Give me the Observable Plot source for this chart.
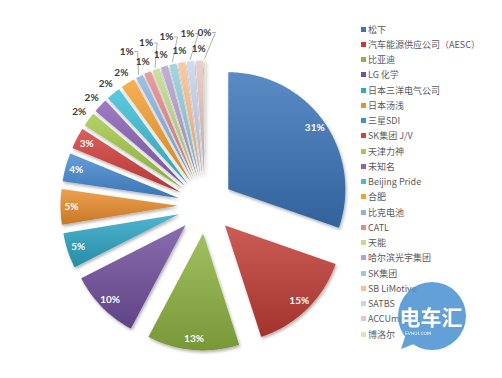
<!DOCTYPE html>
<html><head><meta charset="utf-8">
<script src="https://cdn.jsdelivr.net/npm/d3@7"></script>
<script src="https://cdn.jsdelivr.net/npm/@observablehq/plot@0.6"></script>
<style>
html,body{margin:0;padding:0;background:#fff}
body{width:502px;height:378px;overflow:hidden;position:relative;font-family:"Noto Sans CJK SC","Noto Sans",sans-serif}
#chart{position:absolute;left:0;top:0}
#legend{position:absolute;left:361px;top:21.5px;font-size:9px;color:#5a5a5a}
.item{display:flex;align-items:center;height:15.25px;white-space:nowrap}
.sw{width:5px;height:5px;margin-right:2px;flex:none}
#mark{position:absolute;left:0;top:0;pointer-events:none}
</style></head><body>
<div id="chart"></div>
<div id="legend"></div>
<svg id="mark" width="502" height="378">
  <g opacity="0.88">
    <path d="M406,334 L401,349 L419,342 Z" fill="#4d94d2"/>
    <circle cx="432" cy="316" r="34" fill="#4d94d2"/>
    <text x="431" y="325" text-anchor="middle" font-size="21" font-weight="bold" fill="#fff" font-family="Noto Sans CJK SC">电车汇</text>
    <text x="418" y="335" text-anchor="middle" font-size="4.5" fill="#fff" font-family="DejaVu Sans">EVHUI.COM</text>
  </g>
</svg>
<script>
// ---- data ----
const companies = ["松下","汽车能源供应公司（AESC）","比亚迪","LG 化学","日本三洋电气公司","日本汤浅","三星SDI","SK集团 J/V","天津力神","未知名","Beijing Pride","合肥","比克电池","CATL","天能","哈尔滨光宇集团","SK集团","SB LiMotive","SATBS","ACCUmotive","博洛尔"];
const shares = [31,15,13,10,5,5,4,3,2,2,2,2,1,1,1,1,1,1,1,1,0.2];
const colors = ["#3a74b9","#c23c36","#8fb443","#72519e","#2fa6c4","#ec8f2e","#478bd4","#d4403d","#a5c94a","#8b62b6","#3dbfd9","#f5a030","#8db3e2","#e48b89","#c2db8e","#b3a1cf","#92cddc","#fac08f","#c6d5ea","#e8c4c7","#d7e4bd"];

// ---- layout constants ----
const R = 117, EXPLODE = 28;
const rows = companies.map((name, i) => ({name, share: shares[i], label: Math.round(shares[i]) + "%"}));
const arcs = d3.pie().sort(null).value(d => d.share)(rows);

const pts = [];
const inside = [], outside = [], leaders = [];
const placed = [];
const overlaps = (x, y) => placed.some(q => Math.abs(x - q.x) < 16 && Math.abs(y - q.y) < 10);
arcs.forEach(a => {
  const mid = (a.startAngle + a.endAngle) / 2;
  const ax = EXPLODE * Math.sin(mid), ay = EXPLODE * Math.cos(mid);
  const name = a.data.name;
  pts.push({name, x: ax, y: ay});
  const n = Math.max(2, Math.ceil((a.endAngle - a.startAngle) / (Math.PI / 180)));
  for (let k = 0; k <= n; k++) {
    const t = a.startAngle + (a.endAngle - a.startAngle) * k / n;
    pts.push({name, x: ax + R * Math.sin(t), y: ay + R * Math.cos(t)});
  }
  pts.push({name, x: ax, y: ay});
  if (a.data.share >= 3) {
    const r = 134;
    inside.push({x: r * Math.sin(mid), y: r * Math.cos(mid), text: a.data.label});
  } else {
    let r = 157, x, y;
    for (let k = 0; k < 6; k++) {
      r = 157 + 16 * k;
      x = r * Math.sin(mid); y = r * Math.cos(mid);
      if (!overlaps(x, y)) break;
    }
    placed.push({x, y});
    outside.push({x, y, text: a.data.label});
    if (r > 157) {
      const rx = (R + EXPLODE + 2) * Math.sin(mid), ry = (R + EXPLODE + 2) * Math.cos(mid);
      const side = x < rx ? 1 : -1;
      leaders.push({id: name, x: x + side * 8, y: y});
      leaders.push({id: name, x: x + side * 11, y: y});
      leaders.push({id: name, x: rx, y: ry});
    }
  }
});

const plot = Plot.plot({
  width: 502, height: 378, margin: 0,
  x: {domain: [-205, 297], axis: null},
  y: {domain: [-173, 205], axis: null},
  color: {domain: companies, range: colors},
  marks: [
    Plot.line(pts, {x: "x", y: "y", z: "name", fill: "name", stroke: "none", curve: "linear"}),
    Plot.line(pts, {x: "x", y: "y", z: "name", fill: "url(#shade)", stroke: "none", curve: "linear"}),
    Plot.line(leaders, {x: "x", y: "y", z: "id", stroke: "#9a9a9a", strokeWidth: 0.8, curve: "linear"}),
    Plot.text(inside, {x: "x", y: "y", text: "text", fill: "white", fontWeight: "bold", fontSize: 10, fontFamily: "Lato, 'Open Sans', sans-serif"}),
    Plot.text(outside, {x: "x", y: "y", text: "text", fill: "#3c3c3c", fontWeight: "bold", fontSize: 10, fontFamily: "Lato, 'Open Sans', sans-serif"})
  ]
});
const NS = "http://www.w3.org/2000/svg";
const defs = document.createElementNS(NS, "defs");
defs.innerHTML = '<linearGradient id="shade" x1="0" y1="0" x2="0" y2="1">' +
  '<stop offset="0" stop-color="#fff" stop-opacity="0.16"/>' +
  '<stop offset="1" stop-color="#000" stop-opacity="0.16"/></linearGradient>' +
  '<filter id="drop" x="-20%" y="-20%" width="140%" height="140%">' +
  '<feDropShadow dx="1.2" dy="2" stdDeviation="1.6" flood-color="#000" flood-opacity="0.3"/></filter>';
plot.insertBefore(defs, plot.firstChild);
const g = plot.querySelectorAll('g[aria-label="line"]')[0];
if (g) g.setAttribute("filter", "url(#drop)");
document.getElementById("chart").appendChild(plot);

const legend = document.getElementById("legend");
companies.forEach((c, i) => {
  const it = document.createElement("div"); it.className = "item";
  const sw = document.createElement("span"); sw.className = "sw"; sw.style.background = colors[i];
  const tx = document.createElement("span"); tx.textContent = c;
  it.appendChild(sw); it.appendChild(tx); legend.appendChild(it);
});
</script>
</body></html>
